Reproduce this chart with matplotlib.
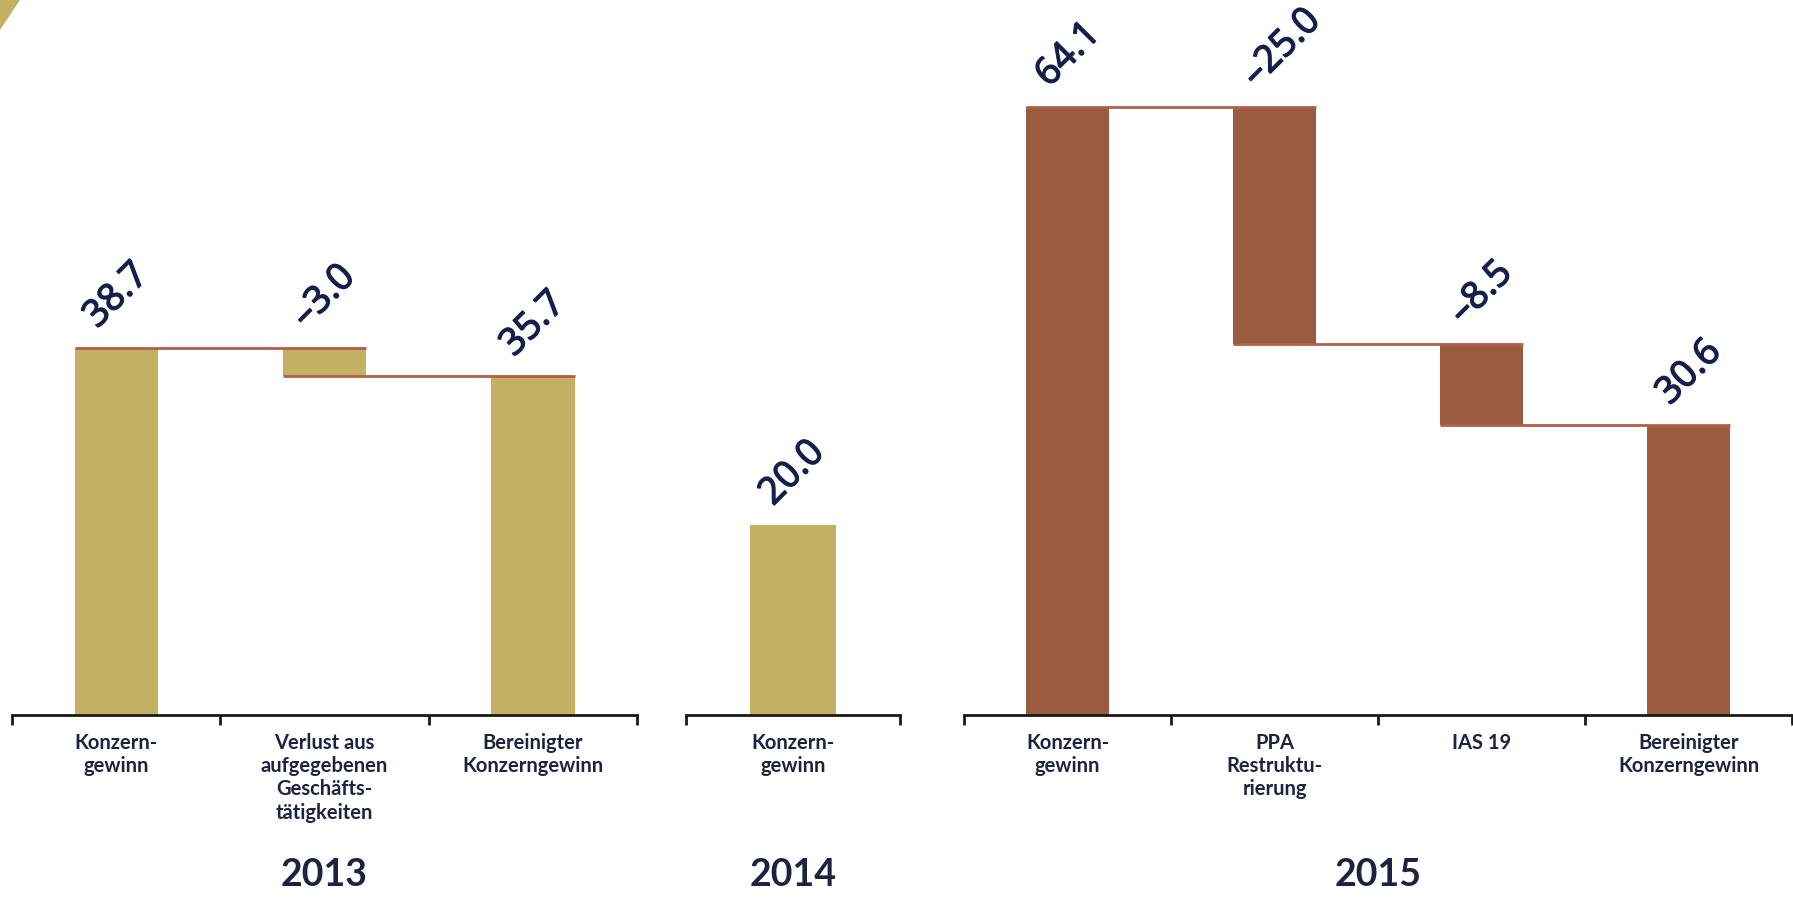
"""Konzerngewinn waterfall, 2013 / 2014 / 2015 (in EUR million)."""

import matplotlib
matplotlib.use("Agg")
import matplotlib.pyplot as plt
import matplotlib.patheffects as pe
from matplotlib.patches import Polygon

plt.rcParams["font.family"] = ["Lato", "DejaVu Sans"]

COLOR_GOLD = "#c4b062"
COLOR_BROWN = "#9a5b40"
COLOR_LINE = "#b0604a"
COLOR_TEXT = "#1b2340"
COLOR_VALUE = "#13204a"

# data
years = ["2013", "2014", "2015"]

cats_2013 = ["Konzern-\ngewinn", "Verlust aus\naufgegebenen\nGeschäfts-\ntätigkeiten",
             "Bereinigter\nKonzerngewinn"]
vals_2013 = [38.7, -3.0, 35.7]
kind_2013 = ["total", "delta", "total"]

cats_2014 = ["Konzern-\ngewinn"]
vals_2014 = [20.0]
kind_2014 = ["total"]

cats_2015 = ["Konzern-\ngewinn", "PPA\nRestruktu-\nrierung", "IAS 19",
             "Bereinigter\nKonzerngewinn"]
vals_2015 = [64.1, -25.0, -8.5, 30.6]
kind_2015 = ["total", "delta", "delta", "total"]

W, H = 1793, 898
BASE_Y = 715          # baseline in pixels from top
PX_PER_UNIT = 9.49
YMAX = 70
BAR_W = 0.4


def fmt(v):
    return f"{v:.1f}".replace("-", "\u2013")


def draw_group(fig, x0, x1, cats, vals, kinds, color, year):
    h = YMAX * PX_PER_UNIT
    ax = fig.add_axes([x0 / W, (H - BASE_Y) / H, (x1 - x0) / W, h / H])
    n = len(cats)
    ax.set_xlim(-0.5, n - 0.5)
    ax.set_ylim(0, YMAX)

    running = 0.0
    prev = None
    for i, (v, k) in enumerate(zip(vals, kinds)):
        if k == "total":
            bottom, height = 0.0, v
        else:
            bottom, height = running + v, -v
        running = v if k == "total" else running + v
        top = bottom + height
        ax.bar(i, height, bottom=bottom, width=BAR_W, color=color, linewidth=0, zorder=2)
        # connector: from the previous bar's left edge to this bar's right edge
        if prev is not None:
            ax.plot([prev - BAR_W / 2, i + BAR_W / 2], [top, top], color=COLOR_LINE,
                    lw=2.0, solid_capstyle="butt", zorder=3)
        ax.annotate(fmt(v), xy=(i - BAR_W / 2, top), xytext=(21, 9),
                    textcoords="offset points", rotation=45, rotation_mode="anchor",
                    ha="left", va="bottom", fontsize=27, color=COLOR_VALUE,
                    family=["Open Sans", "DejaVu Sans"], annotation_clip=False,
                    path_effects=[pe.withStroke(linewidth=1.0, foreground=COLOR_VALUE)])
        prev = i

    for s in ("top", "right", "left"):
        ax.spines[s].set_visible(False)
    ax.spines["bottom"].set_linewidth(2.0)
    ax.spines["bottom"].set_color("#1a1a1a")
    ax.set_yticks([])
    ax.set_xticks([j - 0.5 for j in range(n + 1)])
    ax.set_xticklabels([])
    ax.tick_params(axis="x", which="major", length=7, width=2.0, color="#1a1a1a", direction="out")
    ax.set_xticks(range(n), minor=True)
    ax.set_xticklabels(cats, minor=True, fontsize=14.5, fontweight="bold", color=COLOR_TEXT,
                       linespacing=1.2, va="top")
    ax.tick_params(axis="x", which="minor", length=0, pad=13)
    fig.text((x0 + x1) / 2 / W, 1 - 875 / H, year, ha="center", va="center",
             fontsize=27, fontweight="bold", color=COLOR_TEXT)
    return ax


fig = plt.figure(figsize=(W / 100, H / 100), dpi=100)
fig.patch.set_facecolor("white")

draw_group(fig, 12, 637, cats_2013, vals_2013, kind_2013, COLOR_GOLD, years[0])
draw_group(fig, 686, 900, cats_2014, vals_2014, kind_2014, COLOR_GOLD, years[1])
draw_group(fig, 964, 1792, cats_2015, vals_2015, kind_2015, COLOR_BROWN, years[2])

# small gold corner mark in the top-left
fig.patches.append(Polygon([[0, 1], [20 / W, 1], [0, 1 - 30 / H]], closed=True,
                           transform=fig.transFigure, facecolor=COLOR_GOLD, edgecolor="none"))

fig.savefig("out.png", dpi=100)
